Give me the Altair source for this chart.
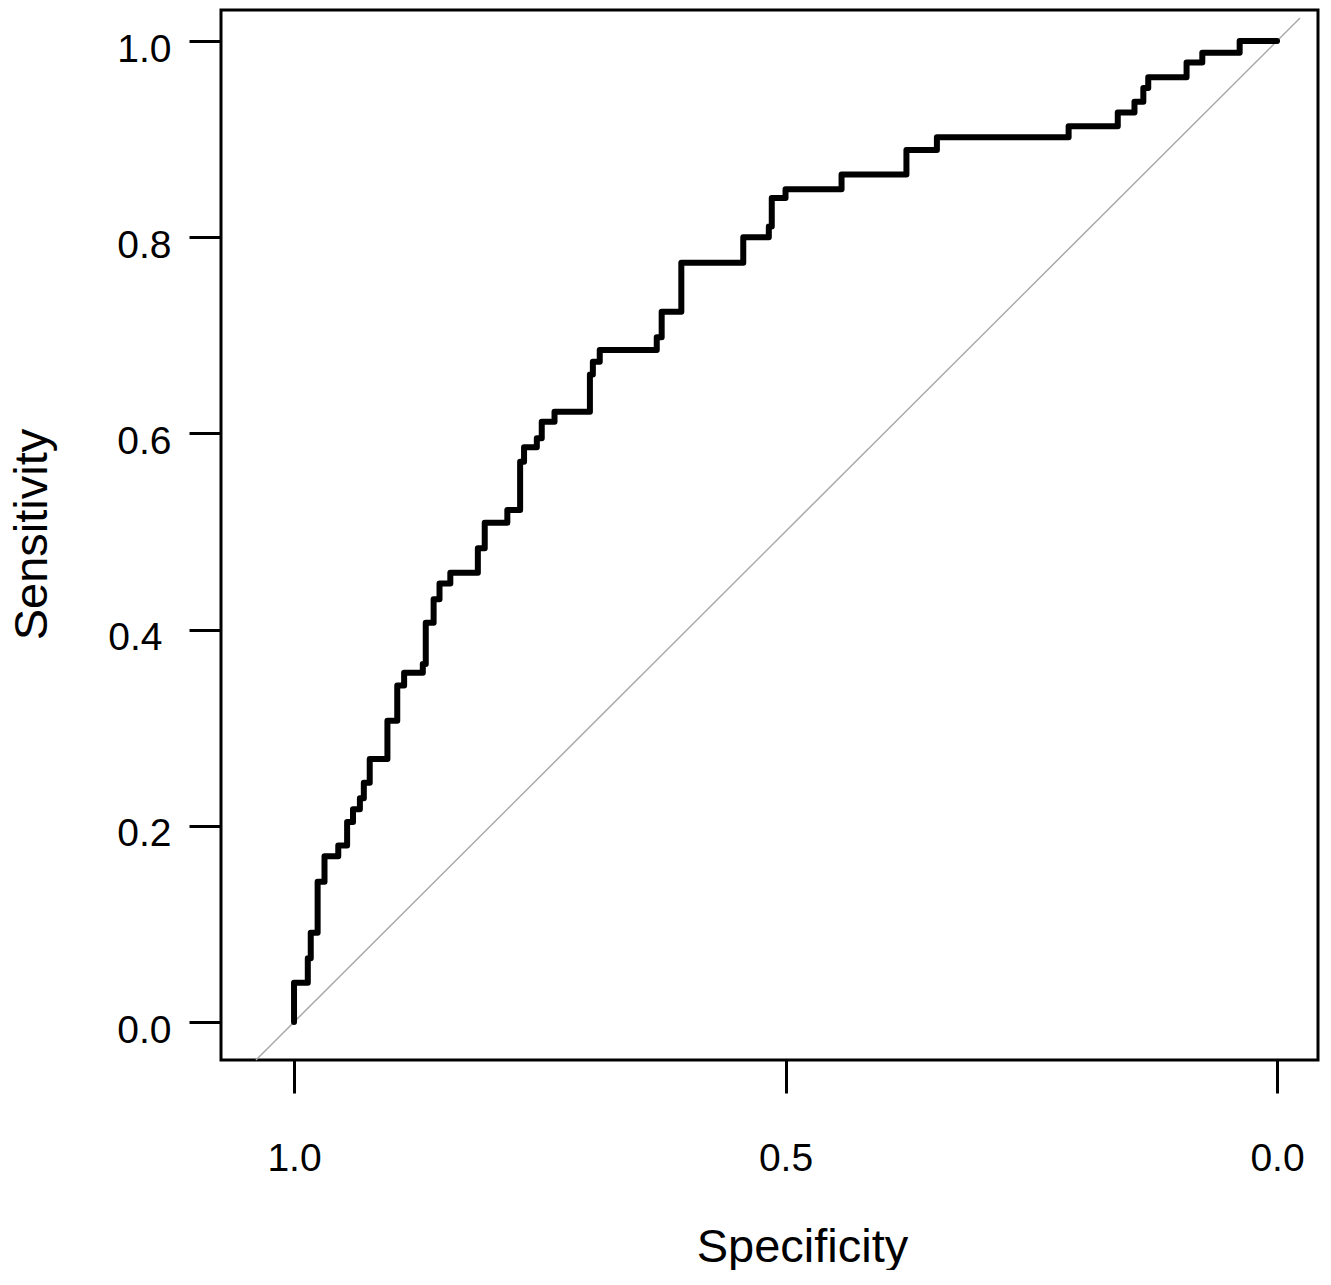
import altair as alt
import pandas as pd

# ROC curve corner points (specificity, sensitivity), drawn as step-before
SPEC = [1.000, 0.986, 0.983, 0.976, 0.969, 0.955, 0.946, 0.940, 0.933, 0.929,
        0.923, 0.905, 0.895, 0.888, 0.869, 0.866, 0.858, 0.852, 0.841, 0.813,
        0.806, 0.783, 0.770, 0.766, 0.753, 0.748, 0.735, 0.699, 0.696, 0.689,
        0.631, 0.626, 0.606, 0.543, 0.517, 0.514, 0.500, 0.443, 0.377, 0.346,
        0.212, 0.162, 0.145, 0.136, 0.131, 0.092, 0.076, 0.038, 0.000]
SENS = [0.000, 0.040, 0.065, 0.091, 0.143, 0.169, 0.180, 0.204, 0.217, 0.228,
        0.244, 0.268, 0.307, 0.343, 0.356, 0.365, 0.407, 0.431, 0.447, 0.458,
        0.483, 0.509, 0.522, 0.571, 0.586, 0.595, 0.612, 0.622, 0.660, 0.673,
        0.685, 0.698, 0.724, 0.774, 0.800, 0.811, 0.840, 0.849, 0.864, 0.889,
        0.902, 0.913, 0.927, 0.938, 0.952, 0.963, 0.978, 0.988, 1.000]

# chance diagonal (sens = 1 - spec), endpoints in specificity
DIAG_SPEC = [1.0387, -0.0234]

X_TICKS = [1.0, 0.5, 0.0]
Y_TICKS = [0.0, 0.2, 0.4, 0.6, 0.8, 1.0]

roc = pd.DataFrame({"spec": SPEC, "sens": SENS, "idx": list(range(len(SPEC)))})
diag = pd.DataFrame({"spec": DIAG_SPEC, "sens": [1 - s for s in DIAG_SPEC], "idx": [0, 1]})

FONT = "Liberation Sans"

xscale = alt.Scale(domain=[-0.0417, 1.0743], reverse=True, nice=False, zero=False)
yscale = alt.Scale(domain=[-0.0387, 1.0316], nice=False, zero=False)

xaxis = alt.Axis(
    values=X_TICKS, format=".1f", title="Specificity",
    domain=False, grid=False, tickSize=33, tickWidth=3, tickColor="black",
    labelFont=FONT, labelFontSize=39, labelColor="black",
    labelBaseline="alphabetic", labelPadding=77, labelFlush=False,
    titleFont=FONT, titleFontSize=47, titleFontWeight="normal", titleColor="black",
    titleBaseline="alphabetic", titleAlign="center", titleX=581, titleY=201,
)
yaxis = alt.Axis(
    values=Y_TICKS, format=".1f", title="Sensitivity",
    domain=False, grid=False, tickSize=32, tickWidth=3, tickColor="black",
    labelFont=FONT, labelFontSize=39, labelColor="black",
    labelAlign="right", labelBaseline="alphabetic", labelOffset=20,
    labelPadding={"condition": {"test": "datum.value == 0.4", "value": 27}, "value": 18},
    labelFlush=False,
    titleFont=FONT, titleFontSize=47, titleFontWeight="normal", titleColor="black",
    titleBaseline="alphabetic", titleAlign="center", titleAngle=270,
    titleX=-175, titleY=524,
)

diag_line = alt.Chart(diag).mark_line(color="#a9a9a9", strokeWidth=1.5).encode(
    x=alt.X("spec:Q", scale=xscale, axis=xaxis),
    y=alt.Y("sens:Q", scale=yscale, axis=yaxis),
    order="idx:Q",
)

roc_line = alt.Chart(roc).mark_line(
    color="black", strokeWidth=6, interpolate="step-before",
    strokeCap="round", strokeJoin="round",
).encode(
    x=alt.X("spec:Q", scale=xscale),
    y=alt.Y("sens:Q", scale=yscale),
    order="idx:Q",
)

chart = alt.layer(diag_line, roc_line).properties(
    width=1097, height=1050,
    autosize=alt.AutoSizeParams(type="none"),
    padding={"left": 213, "top": 2, "right": 4, "bottom": 210},
    background="white",
).configure_view(stroke="black", strokeWidth=3)

chart.save("out.html", embed_options={"renderer": "svg", "actions": False})
